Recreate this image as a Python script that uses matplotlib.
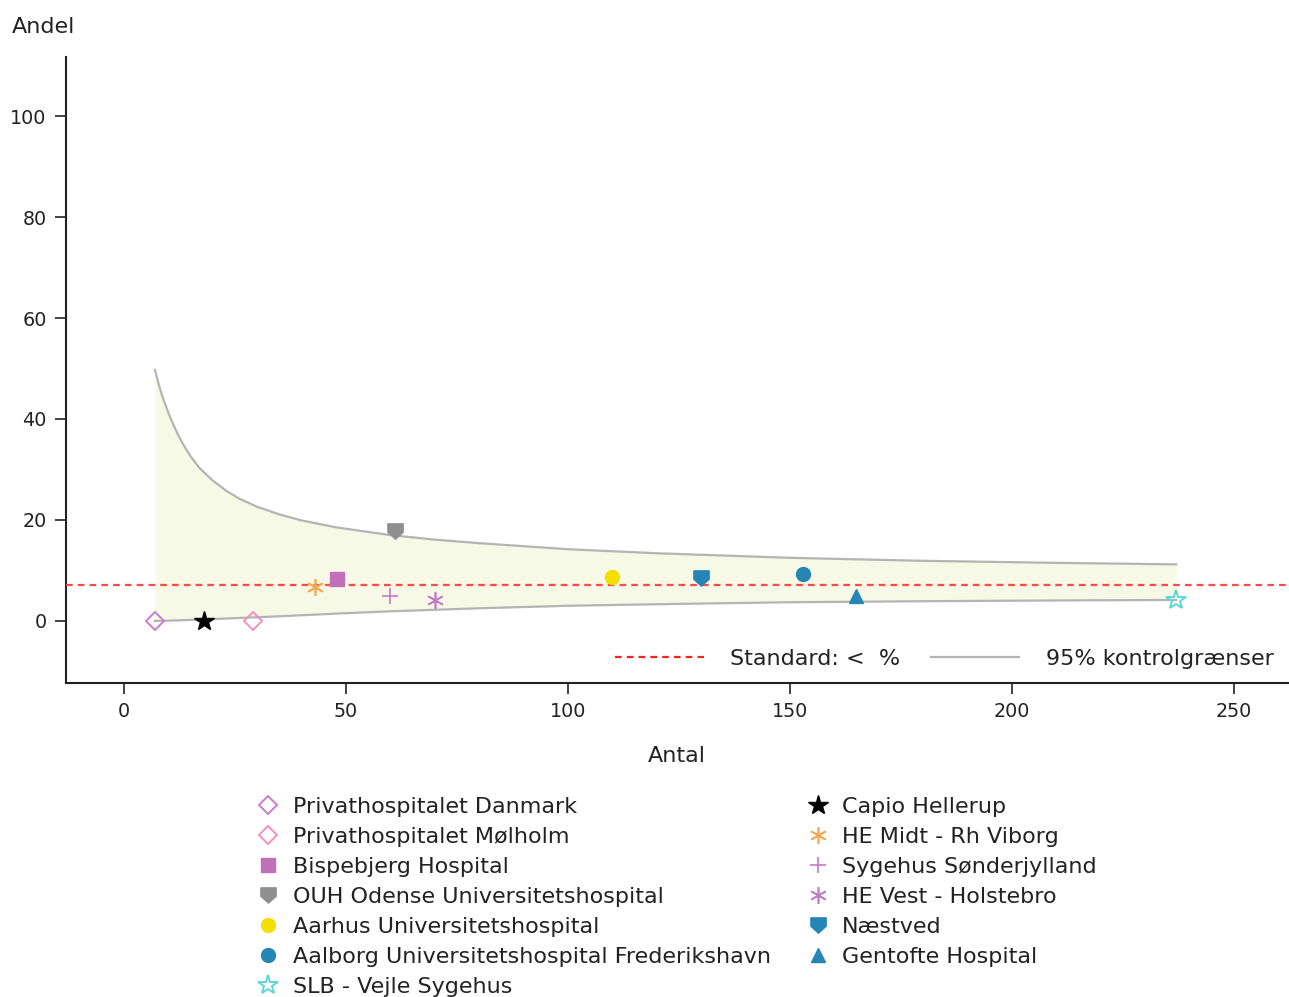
import numpy as np
import matplotlib.pyplot as plt
from matplotlib.lines import Line2D

# Sygehuse: antal patienter og andel (%)
sygehuse = ['Privathospitalet Danmark', 'Privathospitalet Mølholm', 'Bispebjerg Hospital',
            'OUH Odense Universitetshospital', 'Aarhus Universitetshospital',
            'Aalborg Universitetshospital Frederikshavn', 'SLB - Vejle Sygehus',
            'Capio Hellerup', 'HE Midt - Rh Viborg', 'Sygehus Sønderjylland',
            'HE Vest - Holstebro', 'Næstved', 'Gentofte Hospital']
antal = [7, 29, 48, 61, 110, 153, 237, 18, 43, 60, 70, 130, 165]
andel = [0.0, 0.0, 8.3, 17.9, 8.7, 9.2, 4.2, 0.0, 6.8, 5.0, 4.2, 8.5, 5.0]

# Landsgennemsnit (rød stiplet linje)
standard = 7.1

# 95% kontrolgrænser aflæst langs tragten
graense_n = [7, 7.5, 8, 8.5, 9, 10, 11, 12, 13, 14, 15, 17, 20, 23, 26, 30, 35, 40, 48,
             60, 70, 80, 100, 120, 150, 180, 210, 237]
oevre = [49.7, 47.9, 46.3, 44.9, 43.6, 41.2, 39.1, 37.2, 35.5, 34.0, 32.6, 30.3, 27.8,
         25.8, 24.2, 22.6, 21.1, 19.9, 18.5, 17.0, 16.1, 15.4, 14.2, 13.4, 12.5, 11.9,
         11.5, 11.2]
nedre = [0.0, 0.0, 0.0, 0.02, 0.03, 0.05, 0.08, 0.1, 0.13, 0.16, 0.2, 0.27, 0.37,
         0.47, 0.58, 0.72, 0.92, 1.12, 1.45, 1.9, 2.2, 2.5, 3.0, 3.3, 3.7, 3.9,
         4.05, 4.15]

# Skjoldformet markør
skjold = [(-1, 1), (1, 1), (1, -0.1), (0, -1), (-1, -0.1), (-1, 1)]
asterisk = (6, 2, 0)

stil = [
    dict(marker='D', mfc='none', mec='#C77CD0', ms=9, mew=1.4),
    dict(marker='D', mfc='none', mec='#F590BE', ms=9, mew=1.4),
    dict(marker='s', mfc='#C070B8', mec='#C070B8', ms=10),
    dict(marker=skjold, mfc='#8F8F8F', mec='#8F8F8F', ms=11),
    dict(marker='o', mfc='#F5DF00', mec='#F5DF00', ms=10),
    dict(marker='o', mfc='#2586B5', mec='#2586B5', ms=10),
    dict(marker='*', mfc='none', mec='#5CD6D8', ms=15, mew=1.4),
    dict(marker='*', mfc='black', mec='black', ms=15),
    dict(marker=asterisk, mfc='none', mec='#F5A84E', ms=12, mew=1.2),
    dict(marker='+', mfc='none', mec='#C678C8', ms=12, mew=1.2),
    dict(marker=asterisk, mfc='none', mec='#C07CC4', ms=12, mew=1.2),
    dict(marker=skjold, mfc='#2586B5', mec='#2586B5', ms=11),
    dict(marker='^', mfc='#2586B5', mec='#2586B5', ms=10),
]

plt.rcParams['font.family'] = 'DejaVu Sans'
fs = 16
fs_tick = 13.8
tekst = '#222222'

fig = plt.figure(figsize=(12.89, 9.97), dpi=100)
ax = fig.add_axes([66 / 1289, 1 - 683 / 997, (1288 - 66) / 1289, (683 - 57) / 997])

# Tragt
ax.fill_between(graense_n, nedre, oevre, color='#F6F9E6', lw=0, zorder=1)
ax.plot(graense_n, oevre, color='#B4B4B4', lw=1.6, zorder=2)
ax.plot(graense_n, nedre, color='#B4B4B4', lw=1.6, zorder=2)
ax.axhline(standard, color='#FF4A4A', lw=1.6, ls=(0, (3, 2.3)), zorder=3)

handles = []
for navn, n, a, s in zip(sygehuse, antal, andel, stil):
    ax.plot([n], [a], ls='none', zorder=4, **s)
    handles.append(Line2D([], [], ls='none', label=navn, **s))

ax.set_xlim(-13.06, 262.2)
ax.set_ylim(-12.3, 111.7)
ax.set_xticks([0, 50, 100, 150, 200, 250])
ax.set_yticks([0, 20, 40, 60, 80, 100])
ax.tick_params(labelsize=fs_tick, length=8, width=1.2, direction='out', pad=6, colors=tekst)
for side in ['top', 'right']:
    ax.spines[side].set_visible(False)
for side in ['left', 'bottom']:
    ax.spines[side].set_linewidth(1.5)
    ax.spines[side].set_color(tekst)

ax.set_xlabel('Antal', fontsize=fs, labelpad=18, color=tekst)
fig.text(12 / 1289, 1 - 27 / 997, 'Andel', fontsize=fs, ha='left', va='center', color=tekst)

# Forklaring inde i plottet
inner = [Line2D([], [], color='#FF2020', lw=1.6, ls=(0, (3, 2.3))),
         Line2D([], [], color='#B4B4B4', lw=1.6)]
ax.legend(inner, ['Standard: <  %', '95% kontrolgrænser'], loc='lower right',
          bbox_to_anchor=(1.0, 0.0), ncol=2, frameon=False, fontsize=fs,
          handlelength=4.0, columnspacing=1.35, handletextpad=1.2,
          borderaxespad=0.23, labelcolor=tekst)

fig.legend(handles=handles, loc='upper left', bbox_to_anchor=(244 / 1289, 1 - 786 / 997),
           ncol=2, frameon=False, fontsize=fs, handlelength=1.2, handletextpad=0.5,
           labelspacing=0.45, columnspacing=1.5, borderpad=0, labelcolor=tekst)

fig.savefig('out.png', dpi=100)
